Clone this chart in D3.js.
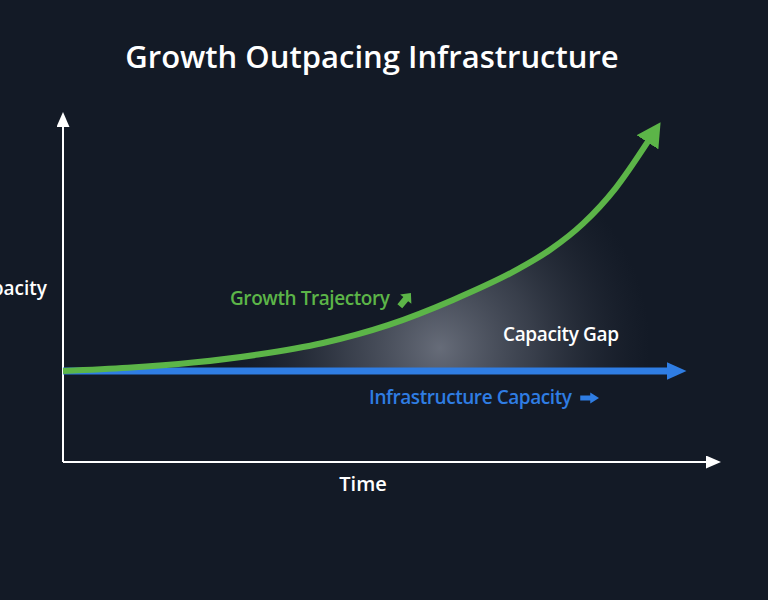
<!DOCTYPE html>
<html>
<head>
<meta charset="utf-8">
<script src="https://cdn.jsdelivr.net/npm/d3@7"></script>
<style>
  html, body { margin: 0; padding: 0; background: #131a26; }
  svg { display: block; font-family: "Open Sans", "Noto Sans", sans-serif; }
</style>
</head>
<body>
<script>
// chart data (abstract units: time 0..10, capacity 0..10)
const growthTime = [0, 1, 2, 3, 4, 5, 6, 7, 7.5, 8, 8.5, 9];
const growthValue = [2.6, 2.69, 2.84, 3.07, 3.4, 3.91, 4.63, 5.51, 6.07, 6.81, 7.82, 9.16];
const capacityTime = [0, 9.3];
const capacityValue = [2.6, 2.6];
const labels = ["Growth Trajectory", "Infrastructure Capacity", "Capacity Gap"];
const axisLabels = ["Time", "Capacity"];
const title = "Growth Outpacing Infrastructure";

const width = 768, height = 600;
const green = "#5cb548", blue = "#2f7de3";

const svg = d3.select('body').append('svg')
    .attr('width', width)
    .attr('height', height);

svg.append('rect').attr('width', width).attr('height', height).attr('fill', '#131a26');

const x = d3.scaleLinear().domain([0, 10]).range([63, 713]);
const y = d3.scaleLinear().domain([0, 10]).range([462, 112]);

const defs = svg.append('defs');

// arrow heads
function marker(id, color, len, wid) {
    defs.append('marker')
        .attr('id', id)
        .attr('markerUnits', 'userSpaceOnUse')
        .attr('viewBox', `0 ${-wid / 2} ${len} ${wid}`)
        .attr('refX', 1)
        .attr('refY', 0)
        .attr('markerWidth', len)
        .attr('markerHeight', wid)
        .attr('orient', 'auto')
        .append('path')
        .attr('d', `M0,${-wid / 2}L${len},0L0,${wid / 2}Z`)
        .attr('fill', color);
}
marker('head-green', green, 24, 26);
marker('head-blue', blue, 20, 18);
marker('head-white', '#ffffff', 15, 13);

const gap = defs.append('radialGradient')
    .attr('id', 'gap')
    .attr('gradientUnits', 'userSpaceOnUse')
    .attr('cx', 440).attr('cy', 348).attr('r', 210);
gap.append('stop').attr('offset', '0%').attr('stop-color', '#8a8f9c').attr('stop-opacity', 0.7);
gap.append('stop').attr('offset', '45%').attr('stop-color', '#6b707d').attr('stop-opacity', 0.42);
gap.append('stop').attr('offset', '100%').attr('stop-color', '#3a3f4b').attr('stop-opacity', 0);

const growth = growthTime.map((t, i) => ({ t: t, v: growthValue[i] }));
const capacity = capacityTime.map((t, i) => ({ t: t, v: capacityValue[i] }));

// capacity gap area
const area = d3.area()
    .x(d => x(d.t))
    .y0(y(capacityValue[0]))
    .y1(d => y(d.v))
    .curve(d3.curveMonotoneX);

svg.append('path')
    .datum(growth)
    .attr('d', area)
    .attr('fill', 'url(#gap)');

// axes
svg.append('line')
    .attr('x1', x(0)).attr('y1', y(0))
    .attr('x2', 707).attr('y2', y(0))
    .attr('stroke', '#fff').attr('stroke-width', 2)
    .attr('marker-end', 'url(#head-white)');
svg.append('line')
    .attr('x1', x(0)).attr('y1', y(0))
    .attr('x2', x(0)).attr('y2', 126)
    .attr('stroke', '#fff').attr('stroke-width', 2)
    .attr('marker-end', 'url(#head-white)');

const line = d3.line()
    .x(d => x(d.t))
    .y(d => y(d.v))
    .curve(d3.curveMonotoneX);

svg.append('path')
    .datum(capacity)
    .attr('d', line)
    .attr('fill', 'none')
    .attr('stroke', blue)
    .attr('stroke-width', 7)
    .attr('marker-end', 'url(#head-blue)');

svg.append('path')
    .datum(growth)
    .attr('d', line)
    .attr('fill', 'none')
    .attr('stroke', green)
    .attr('stroke-width', 6)
    .attr('marker-end', 'url(#head-green)');

// title
svg.append('text')
    .attr('x', 372).attr('y', 68)
    .attr('text-anchor', 'middle')
    .attr('fill', '#fff')
    .attr('font-size', 31)
    .attr('font-weight', 600)
    .text(title);

// axis labels
svg.append('text')
    .attr('x', 363).attr('y', 491)
    .attr('text-anchor', 'middle')
    .attr('fill', '#fff')
    .attr('font-size', 20)
    .attr('font-weight', 600)
    .text(axisLabels[0]);

svg.append('text')
    .attr('x', 47).attr('y', 295)
    .attr('text-anchor', 'end')
    .attr('fill', '#fff')
    .attr('font-size', 19)
    .attr('font-weight', 600)
    .text(axisLabels[1]);

// series labels
svg.append('text')
    .attr('x', 230).attr('y', 305)
    .attr('fill', green)
    .attr('font-size', 19)
    .attr('font-weight', 600)
    .attr('textLength', 160)
    .text(labels[0]);

svg.append('text')
    .attr('x', 369).attr('y', 404)
    .attr('fill', blue)
    .attr('font-size', 19)
    .attr('font-weight', 600)
    .attr('textLength', 203)
    .text(labels[1]);

svg.append('text')
    .attr('x', 503).attr('y', 341)
    .attr('fill', '#fff')
    .attr('font-size', 19)
    .attr('font-weight', 600)
    .attr('textLength', 116)
    .text(labels[2]);

// small arrow icons after labels
const icon = 'M-3,7 L-3,-1 L-7,-1 L0,-8 L7,-1 L3,-1 L3,7 Z';
svg.append('path')
    .attr('d', icon)
    .attr('transform', 'translate(405,300) rotate(40) scale(1.05,1.15)')
    .attr('fill', green);
svg.append('path')
    .attr('d', icon)
    .attr('transform', 'translate(589,398) rotate(90) scale(0.8,1.25)')
    .attr('fill', blue);
</script>
</body>
</html>
